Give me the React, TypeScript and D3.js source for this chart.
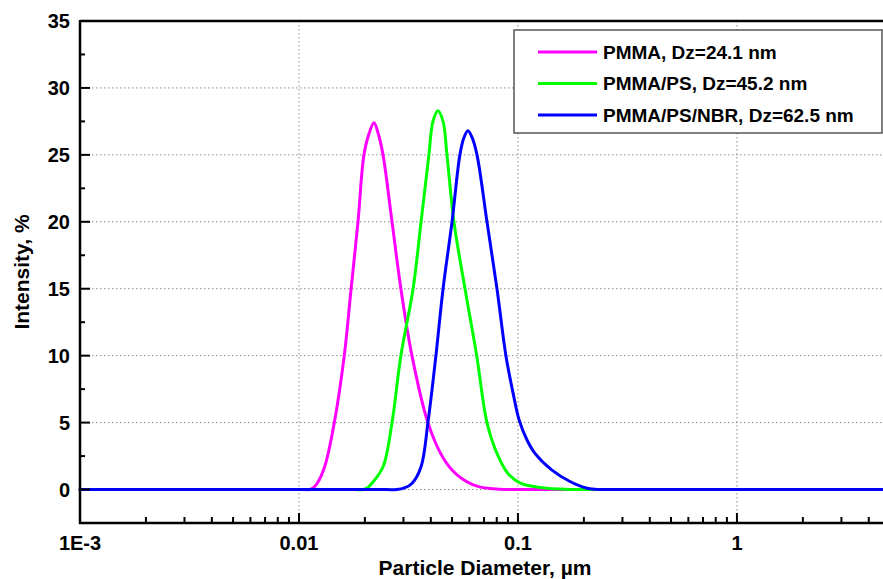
import * as d3 from 'd3';

// particle diameter (µm) and intensity (%)
const pmmaD = [0.001, 0.0105, 0.0112, 0.0116, 0.0121, 0.0131, 0.0145, 0.0161, 0.0173, 0.0186, 0.0198, 0.0209, 0.0220, 0.0230, 0.0242, 0.0266, 0.0292, 0.0328, 0.0388, 0.0454, 0.0527, 0.0650, 0.0828, 0.095, 0.11, 5];
const pmmaI = [0, 0, 0, 0.12, 0.45, 1.7, 5, 10, 15, 20, 25, 26.6, 27.4, 26.6, 25, 20, 15, 10, 5, 2.4, 1.1, 0.25, 0.02, 0, 0, 0];

const pmmaPsD = [0.001, 0.018, 0.0196, 0.0205, 0.0215, 0.0242, 0.0266, 0.0292, 0.0332, 0.0361, 0.0392, 0.0409, 0.0431, 0.0455, 0.0474, 0.0510, 0.0573, 0.0648, 0.0722, 0.0802, 0.0900, 0.102, 0.126, 0.173, 0.2, 5];
const pmmaPsI = [0, 0, 0, 0.12, 0.45, 1.7, 5, 10, 15, 20, 25, 27.5, 28.3, 27.5, 25, 20, 15, 10, 5, 2.7, 1.2, 0.5, 0.15, 0, 0, 0];

const nbrD = [0.001, 0.025, 0.0280, 0.0303, 0.0328, 0.0361, 0.0388, 0.0422, 0.0455, 0.0500, 0.0543, 0.0567, 0.0591, 0.0617, 0.0650, 0.0722, 0.0802, 0.0881, 0.0950, 0.1012, 0.1100, 0.1196, 0.143, 0.1728, 0.2066, 0.2368, 0.27, 5];
const nbrI = [0, 0, 0, 0.12, 0.45, 1.7, 5, 10, 15, 20, 25, 26.3, 26.8, 26.3, 25, 20, 15, 10, 7.2, 5.2, 3.7, 2.7, 1.45, 0.6, 0.1, 0, 0, 0];

const seriesNames = ['PMMA, Dz=24.1 nm', 'PMMA/PS, Dz=45.2 nm', 'PMMA/PS/NBR, Dz=62.5 nm'];
const seriesColors = ['#ff00ff', '#00ff00', '#0000ff'];

const yTicks = [0, 5, 10, 15, 20, 25, 30, 35];
const xTicks = [0.001, 0.01, 0.1, 1];
const xTickLabels = ['1E-3', '0.01', '0.1', '1'];

const W = 883;
const H = 579;
const FONT = '"Liberation Sans", Arial, sans-serif';

export default function App() {
  const left = 80, top = 21, bottom = 523, right = 890;

  const x = d3.scaleLog().domain([0.001, 5]).range([left, right]);
  const y = d3.scaleLinear().domain([-2.5, 35]).range([bottom, top]);

  const series = [
    { d: pmmaD, v: pmmaI },
    { d: pmmaPsD, v: pmmaPsI },
    { d: nbrD, v: nbrI },
  ];

  const line = d3.line<[number, number]>()
    .x(p => x(p[0]))
    .y(p => y(p[1]))
    .curve(d3.curveCatmullRom.alpha(0.5));

  // minor ticks
  const minorX: number[] = [];
  for (let e = -3; e <= 0; e++) {
    for (let m = 2; m <= 9; m++) {
      const v = m * Math.pow(10, e);
      if (v <= 5) minorX.push(v);
    }
  }
  const minorY = d3.range(-2.5, 35, 5);

  const gridX = [0.01, 0.1, 1];
  const gridY = [0, 5, 10, 15, 20, 25, 30];

  return (
    <svg width={W} height={H} style={{ position: 'absolute', left: 0, top: 0, background: '#fff' }} fontFamily={FONT}>
      <rect x={0} y={0} width={W} height={H} fill="#fff" />

      {/* grid */}
      <g stroke="#8a8a8a" strokeWidth={1} strokeDasharray="1.5,2.5">
        {gridY.map(t => (
          <line key={'gy' + t} x1={left} x2={right} y1={y(t)} y2={y(t)} />
        ))}
        {gridX.map(t => (
          <line key={'gx' + t} x1={x(t)} x2={x(t)} y1={top} y2={bottom} />
        ))}
      </g>

      {/* curves */}
      <g fill="none" strokeWidth={3} strokeLinejoin="round" strokeLinecap="round">
        {series.map((s, i) => (
          <path
            key={i}
            d={line(s.d.map((dv, k) => [dv, s.v[k]] as [number, number])) || ''}
            stroke={seriesColors[i]}
          />
        ))}
      </g>

      {/* frame */}
      <g stroke="#000" strokeWidth={2.5} fill="none">
        <line x1={left} x2={right} y1={top} y2={top} />
        <line x1={right} x2={right} y1={top} y2={bottom} />
        <line x1={left} x2={left} y1={top - 1} y2={bottom + 1} />
        <line x1={left - 1} x2={right} y1={bottom} y2={bottom} />
      </g>

      {/* ticks */}
      <g stroke="#000" strokeWidth={2}>
        {yTicks.map(t => (
          <line key={'yt' + t} x1={left} x2={left + 10} y1={y(t)} y2={y(t)} />
        ))}
        {minorY.map(t => (
          <line key={'ym' + t} x1={left} x2={left + 5} y1={y(t)} y2={y(t)} />
        ))}
        {xTicks.map(t => (
          <line key={'xt' + t} x1={x(t)} x2={x(t)} y1={bottom} y2={bottom - 10} />
        ))}
        {minorX.map(t => (
          <line key={'xm' + t} x1={x(t)} x2={x(t)} y1={bottom} y2={bottom - 6} />
        ))}
      </g>

      {/* tick labels */}
      <g fontSize={20} fontWeight="bold" fill="#000">
        {yTicks.map(t => (
          <text key={'yl' + t} x={left - 10} y={y(t)} dy="0.36em" textAnchor="end">{t}</text>
        ))}
        {xTicks.map((t, i) => (
          <text key={'xl' + t} x={x(t)} y={bottom + 27} textAnchor="middle">{xTickLabels[i]}</text>
        ))}
      </g>

      {/* axis titles */}
      <text x={(left + right) / 2} y={575} textAnchor="middle" fontSize={21} fontWeight="bold">
        Particle Diameter, µm
      </text>
      <text
        transform={`translate(29,${(top + bottom) / 2}) rotate(-90)`}
        textAnchor="middle"
        fontSize={21}
        fontWeight="bold"
      >
        Intensity, %
      </text>

      {/* legend */}
      <g>
        <rect x={514} y={30} width={368} height={103} fill="#fff" stroke="#555" strokeWidth={1.5} />
        {seriesNames.map((name, i) => {
          const ly = 52 + i * 31.5;
          return (
            <g key={name}>
              <line x1={538} x2={597} y1={ly} y2={ly} stroke={seriesColors[i]} strokeWidth={3} />
              <text x={603} y={ly} dy="0.36em" fontSize={19} fontWeight="bold">{name}</text>
            </g>
          );
        })}
      </g>
    </svg>
  );
}
